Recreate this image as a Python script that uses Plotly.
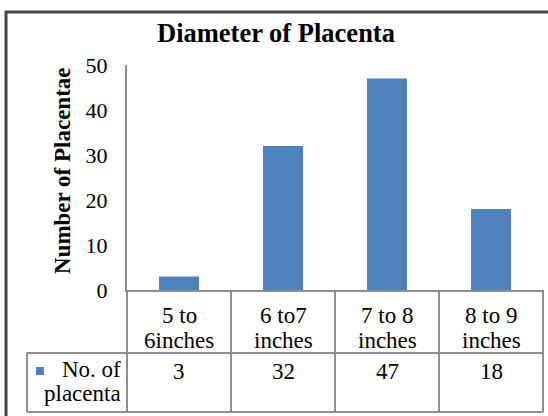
import plotly.graph_objects as go

# ---- data ----
categories = ["5 to<br>6inches", "6 to7<br>inches", "7 to 8<br>inches", "8 to 9<br>inches"]
values = [3, 32, 47, 18]
series_name = "No. of<br>placenta"
y_ticks = [0, 10, 20, 30, 40, 50]
title_text = "Diameter of Placenta"
y_title = "Number of Placentae"

# ---- layout geometry (pixels) ----
W, H = 548, 416
L, R, T, B = 127, 5, 65, 126
PW, PH = W - L - R, H - T - B
FONT = "Liberation Serif"
BLUE = "#4F81BD"
GRID = "#8E8E8E"


def px_x(px):
    return (px - L) / PW


def px_y(py):
    return (H - B - py) / PH


fig = go.Figure()
fig.add_trace(go.Bar(x=list(range(len(categories))), y=values, name=series_name,
                     marker=dict(color=BLUE, line=dict(width=0)), width=0.385,
                     showlegend=False))

n = len(categories)
shapes = []
# outer chart border
shapes.append(dict(type="rect", xref="paper", yref="paper",
                   x0=px_x(6), x1=px_x(W + 6), y0=px_y(H + 6), y1=px_y(12),
                   line=dict(color="#454545", width=3), layer="above"))
# data table lines
row_mid, row_bot, tab_left = 353, 412, 27
for k in range(n + 1):
    shapes.append(dict(type="line", xref="paper", yref="paper",
                       x0=k / n, x1=k / n, y0=0, y1=px_y(row_bot),
                       line=dict(color=GRID, width=2)))
for yy in (row_mid, row_bot):
    shapes.append(dict(type="line", xref="paper", yref="paper",
                       x0=px_x(tab_left), x1=1, y0=px_y(yy), y1=px_y(yy),
                       line=dict(color=GRID, width=2)))
shapes.append(dict(type="line", xref="paper", yref="paper",
                   x0=px_x(tab_left), x1=px_x(tab_left), y0=px_y(row_mid), y1=px_y(row_bot),
                   line=dict(color=GRID, width=2)))
# legend key square
shapes.append(dict(type="rect", xref="paper", yref="paper",
                   x0=px_x(36), x1=px_x(44), y0=px_y(375), y1=px_y(367),
                   fillcolor=BLUE, line=dict(width=0)))

ann = []
for i, c in enumerate(categories):
    l1, l2 = c.split("<br>")
    for txt, py in ((l1, 315), (l2, 340)):
        ann.append(dict(x=i, xref="x", y=px_y(py), yref="paper", text=txt,
                        showarrow=False, xanchor="center", yanchor="middle",
                        font=dict(family=FONT, size=23, color="black")))
    ann.append(dict(x=i, xref="x", y=px_y(371), yref="paper", text=str(values[i]),
                    showarrow=False, xanchor="center", yanchor="middle",
                    font=dict(family=FONT, size=23, color="black")))
s1, s2 = series_name.split("<br>")
for txt, py in ((s1, 369), (s2, 394)):
    ann.append(dict(x=px_x(123), xref="paper", y=px_y(py), yref="paper", text=txt,
                    showarrow=False, xanchor="right", yanchor="middle",
                    font=dict(family=FONT, size=23, color="black")))
# y axis title
ann.append(dict(x=px_x(62), xref="paper", y=px_y(171), yref="paper", text="<b>%s</b>" % y_title,
                showarrow=False, textangle=-90, xanchor="center", yanchor="middle",
                font=dict(family=FONT, size=23, color="black")))

fig.update_layout(
    width=W, height=H,
    margin=dict(l=L, r=R, t=T, b=B, autoexpand=False),
    paper_bgcolor="white", plot_bgcolor="white",
    title=dict(text="<b>%s</b>" % title_text, xref="container", yref="container",
               x=276 / W, y=1 - 33 / H, xanchor="center", yanchor="middle",
               font=dict(family=FONT, size=26.5, color="black")),
    xaxis=dict(range=[-0.5, n - 0.5], showticklabels=False, ticks="",
               showgrid=False, zeroline=False, showline=True, linecolor=GRID, linewidth=2,
               fixedrange=True),
    yaxis=dict(range=[0, 50], tickvals=y_ticks, showgrid=False, zeroline=False,
               showline=True, linecolor=GRID, linewidth=2, ticks="",
               ticklabelstandoff=13,
               tickfont=dict(family=FONT, size=22, color="black"), fixedrange=True),
    shapes=shapes, annotations=ann, bargap=0.6,
)

fig.write_html("out.html", config={"displayModeBar": False},
               post_script="document.body.style.margin='0';document.body.style.overflow='hidden';")
